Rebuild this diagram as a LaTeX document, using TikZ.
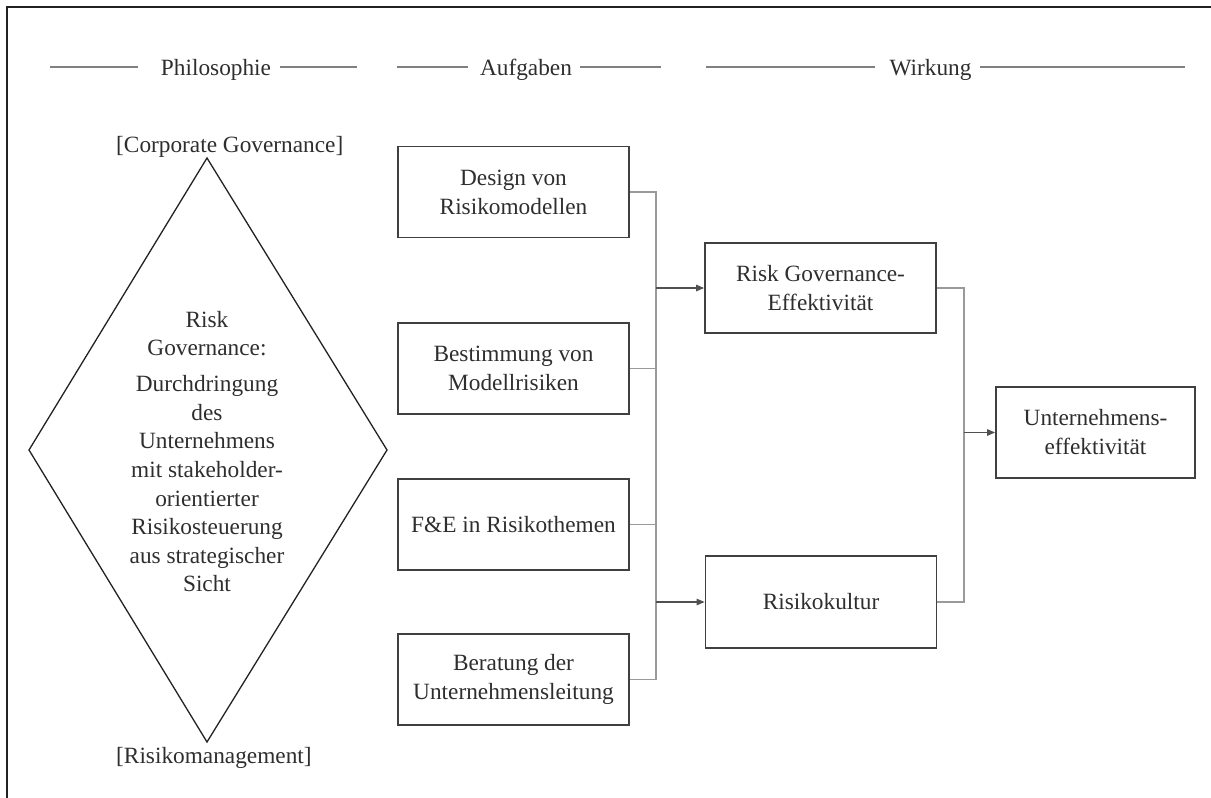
\documentclass[tikz,border=0pt]{standalone}
\usepackage{fontspec}
\setmainfont{Liberation Serif}
\usetikzlibrary{arrows.meta}
\definecolor{txt}{HTML}{2E2E2E}
\definecolor{boxc}{HTML}{404040}
\definecolor{linkc}{HTML}{9A9A9A}
\definecolor{arrc}{HTML}{505050}
\definecolor{headc}{HTML}{808080}
\definecolor{framec}{HTML}{222222}
\begin{document}
\begin{tikzpicture}[x=1pt,y=-1pt,
  every node/.style={font=\fontsize{23.3}{29}\selectfont, text=txt, inner sep=0pt},
  box/.style={draw=boxc, line width=1.8pt, minimum width=231pt, minimum height=91pt, align=center},
  link/.style={draw=linkc, line width=1.2pt},
  feed/.style={draw=arrc, line width=1.2pt, -{Triangle[length=8pt,width=6.5pt]}},
  head/.style={draw=headc, line width=1.5pt},
  rim/.style={draw=framec, line width=2pt},
]
\useasboundingbox (0,0) rectangle (1211,798);

% outer frame (top and left edge)
\draw[rim] (7,798) -- (7,7) -- (1215,7);

% column headers
\node[anchor=base] (hphil) at (216,75) {Philosophie};
\node[anchor=base] (hauf)  at (526,75) {Aufgaben};
\node[anchor=base] (hwir)  at (930.5,75) {Wirkung};
\coordinate (p1) at (50,67);  \coordinate (p2) at (138,67);
\coordinate (p3) at (280,67); \coordinate (p4) at (357,67);
\coordinate (a1) at (397,67); \coordinate (a2) at (468,67);
\coordinate (a3) at (580,67); \coordinate (a4) at (661,67);
\coordinate (w1) at (706,67); \coordinate (w2) at (875,67);
\coordinate (w3) at (980,67); \coordinate (w4) at (1185,67);
\draw[head] (p1) -- (p2); \draw[head] (p3) -- (p4);
\draw[head] (a1) -- (a2); \draw[head] (a3) -- (a4);
\draw[head] (w1) -- (w2); \draw[head] (w3) -- (w4);

% philosophy diamond
\coordinate (dt) at (207,158);
\coordinate (dr) at (387,450);
\coordinate (db) at (207,742);
\coordinate (dl) at (29,450);
\draw[draw=framec, line width=1.3pt, line join=miter] (dt) -- (dr) -- (db) -- (dl) -- cycle;
\node[anchor=base west] (cg) at (116,152) {[Corporate Governance]};
\node[anchor=base west] (rm) at (116,763) {[Risikomanagement]};
\node[align=center, font=\fontsize{23.3}{28.6}\selectfont] (rg) at (207,451.5)
  {Risk\\Governance:\\[7.4pt]Durchdringung\\des\\Unternehmens\\mit stakeholder-\\orientierter\\Risikosteuerung\\aus strategischer\\Sicht};

% tasks
\node[box] (d1) at (513.5,192)   {Design von\\Risikomodellen};
\node[box] (d2) at (513.5,368.5) {Bestimmung von\\Modellrisiken};
\node[box] (d3) at (513.5,524.5) {F\&E in Risikothemen};
\node[box] (d4) at (513.5,679.5) {Beratung der\\Unternehmensleitung};

% effects
\node[box, minimum height=90pt] (r1) at (820.5,288) {Risk Governance-\\Effektivität};
\node[box, minimum height=92pt] (r2) at (821,602) {Risikokultur};
\node[box, minimum width=199pt] (u) at (1095.5,432.5) {Unternehmens-\\effektivität};

% connectors
\coordinate (bus) at (656,0);
\coordinate (bus2) at (964,0);
\draw[link] (d1.east) -- (d1.east -| bus) |- (d4.east);
\draw[link] (d2.east) -- (d2.east -| bus);
\draw[link] (d3.east) -- (d3.east -| bus);
\draw[feed] (r1.west -| bus) -- (r1.west);
\draw[feed] (r2.west -| bus) -- (r2.west);
\draw[link] (r1.east) -- (r1.east -| bus2) |- (r2.east);
\draw[feed] (u.west -| bus2) -- (u.west);
\end{tikzpicture}
\end{document}
